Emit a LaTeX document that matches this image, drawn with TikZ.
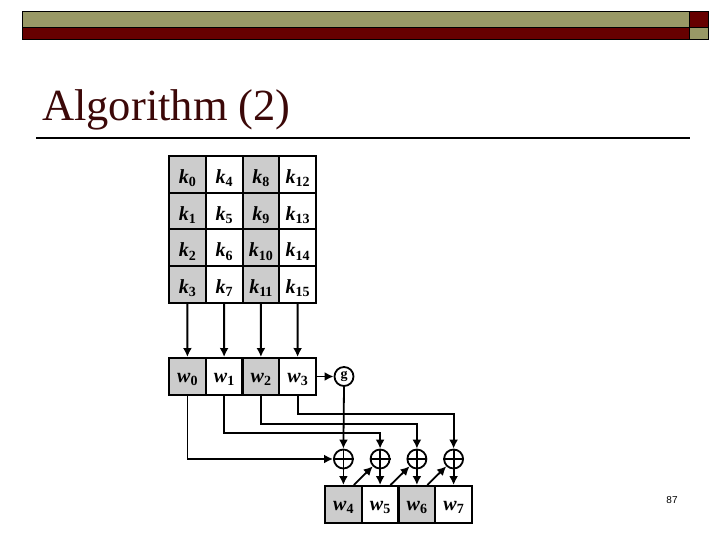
\documentclass[tikz,border=0pt]{standalone}
\usepackage{fontspec}
\setmainfont{Liberation Serif}
\newfontfamily\pnfont{Liberation Sans}
\usetikzlibrary{arrows.meta,calc}
\definecolor{olive}{RGB}{153,153,102}
\definecolor{darkred}{RGB}{102,0,0}
\definecolor{titlecol}{RGB}{60,8,8}
\definecolor{cellgray}{RGB}{204,204,204}
\newcommand{\lab}[2]{\textit{#1}\raisebox{-0.35ex}{\fontsize{14}{14}\selectfont #2}}
\begin{document}
\begin{tikzpicture}[x=1pt,y=-1pt,
  cell/.style={draw,line width=2pt,minimum width=36.75pt,minimum height=36.75pt,inner sep=0pt,
    text height=18pt,text depth=0pt,
    font=\fontsize{20}{20}\selectfont\bfseries},
  gcell/.style={cell,fill=cellgray},
  wcell/.style={cell,minimum height=37pt,text height=13pt,text depth=1pt},
  gwcell/.style={wcell,fill=cellgray},
  xorc/.style={draw,circle,line width=1.8pt,minimum size=19pt,inner sep=0pt},
  arr/.style={line width=1.8pt,-{Latex[length=9pt,width=9pt]}},
  ln/.style={line width=1.8pt}]
\useasboundingbox (0,0) rectangle (720,540);
% header bars
\draw[fill=olive,line width=1pt] (22,12) rectangle (689,28);
\draw[fill=darkred,line width=1pt] (689,12) rectangle (708,28);
\draw[fill=darkred,line width=1pt] (22,28) rectangle (689,40);
\draw[fill=olive,line width=1pt] (689,28) rectangle (708,40);
% title
\node[anchor=base west,inner sep=0pt,text=titlecol,font=\fontsize{44.5}{45}\selectfont] (title) at (42,121) {Algorithm (2)};
\draw[line width=2pt] (36,138) -- (690,138);
% key grid
\foreach \c in {0,1,2,3}{
  \foreach \r in {0,1,2,3}{
    \pgfmathtruncatemacro{\idx}{4*\c+\r}
    \pgfmathtruncatemacro{\isg}{mod(\c,2)==0 ? 1 : 0}
    \ifnum\isg=1
      \node[gcell] (k\idx) at ({169+36.75*(\c+0.5)},{156+36.75*(\r+0.5)}) {\lab{k}{\idx}};
    \else
      \node[cell] (k\idx) at ({169+36.75*(\c+0.5)},{156+36.75*(\r+0.5)}) {\lab{k}{\idx}};
    \fi
  }
}
% w row 1
\node[gwcell] (w0) at (187.4,376.5) {\lab{w}{0}};
\node[wcell]  (w1) at (224.1,376.5) {\lab{w}{1}};
\node[gwcell] (w2) at (260.9,376.5) {\lab{w}{2}};
\node[wcell]  (w3) at (297.6,376.5) {\lab{w}{3}};
% w row 2
\node[gwcell] (w4) at (343.4,504.5) {\lab{w}{4}};
\node[wcell]  (w5) at (380.1,504.5) {\lab{w}{5}};
\node[gwcell] (w6) at (416.9,504.5) {\lab{w}{6}};
\node[wcell]  (w7) at (453.6,504.5) {\lab{w}{7}};
% g
\node[xorc,font=\fontsize{14}{14}\selectfont\bfseries] (g) at (344,376.5) {g};
% xor nodes
\foreach \i/\x in {1/343.4,2/380.1,3/416.9,4/453.6}{
  \node[xorc] (x\i) at (\x,459) {};
  \draw[ln] (x\i.north) -- (x\i.south) (x\i.west) -- (x\i.east);
}
% grid to w row
\draw[arr] (k3.south) -- (w0.north);
\draw[arr] (k7.south) -- (w1.north);
\draw[arr] (k11.south) -- (w2.north);
\draw[arr] (k15.south) -- (w3.north);
\draw[arr] (w3.east) -- (g.west);
% to xors
\draw[arr] (g.south) -- (x1.north);
\draw[arr] (w0.south) |- (x1.west);
\draw[arr] (w1.south) -- ++(0,37) -| (x2.north);
\draw[arr] (w2.south) -- ++(0,28) -| (x3.north);
\draw[arr] (w3.south) -- ++(0,18) -| (x4.north);
% xors down
\draw[arr] (x1.south) -- (w4.north);
\draw[arr] (x2.south) -- (w5.north);
\draw[arr] (x3.south) -- (w6.north);
\draw[arr] (x4.south) -- (w7.north);
% diagonals
\draw[arr] ([xshift=-9pt]w4.north east) -- (x2.south west);
\draw[arr] ([xshift=-9pt]w5.north east) -- (x3.south west);
\draw[arr] ([xshift=-9pt]w6.north east) -- (x4.south west);
% page number
\node[font=\pnfont\fontsize{10}{10}\selectfont,inner sep=0pt] (pn) at (672,500) {87};
\end{tikzpicture}
\end{document}
